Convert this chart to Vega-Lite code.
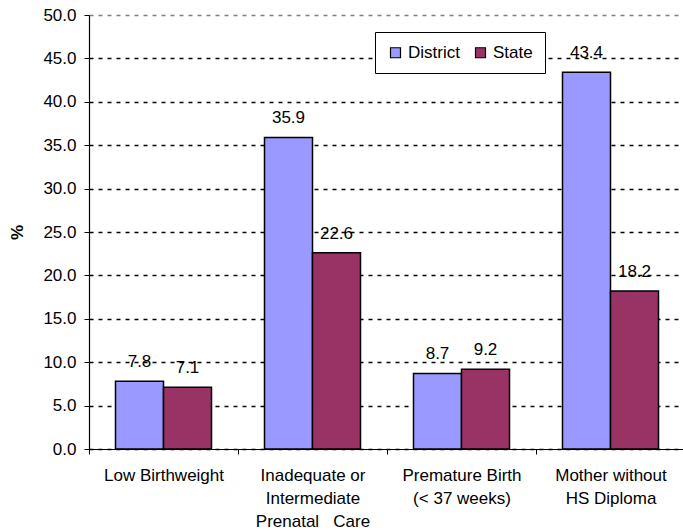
{
  "$schema": "https://vega.github.io/schema/vega-lite/v6.json",
  "autosize": {"type": "none"},
  "padding": {"left": 89, "top": 15, "right": 0, "bottom": 82},
  "width": 596,
  "height": 434,
  "background": "white",
  "config": {
    "font": "Liberation Sans",
    "view": {"stroke": null}
  },
  "data": {
    "values": [
      {"category": "Low Birthweight", "group": "District", "value": 7.8},
      {"category": "Low Birthweight", "group": "State", "value": 7.1},
      {"category": "Inadequate or|Intermediate|Prenatal\u00a0\u00a0\u00a0Care", "group": "District", "value": 35.9},
      {"category": "Inadequate or|Intermediate|Prenatal\u00a0\u00a0\u00a0Care", "group": "State", "value": 22.6},
      {"category": "Premature Birth|(< 37 weeks)", "group": "District", "value": 8.7},
      {"category": "Premature Birth|(< 37 weeks)", "group": "State", "value": 9.2},
      {"category": "Mother without|HS Diploma", "group": "District", "value": 43.4},
      {"category": "Mother without|HS Diploma", "group": "State", "value": 18.2}
    ]
  },
  "encoding": {
    "x": {
      "field": "category", "type": "nominal", "sort": null,
      "scale": {"paddingInner": 0, "paddingOuter": 0},
      "axis": {
        "title": null, "labelAngle": 0, "tickBand": "extent",
        "labelExpr": "split(datum.label, '|')",
        "labelFontSize": 17, "labelColor": "black", "labelPadding": 13,
        "labelLineHeight": 23, "labelBaseline": "top",
        "domainColor": "black", "domainWidth": 1.2,
        "tickColor": "black", "tickSize": 5, "grid": false
      }
    },
    "xOffset": {"field": "group", "type": "nominal", "scale": {"paddingInner": 0, "paddingOuter": 0.552}},
    "y": {
      "field": "value", "type": "quantitative",
      "scale": {"domain": [0, 50], "nice": false},
      "axis": {
        "title": "%", "titleFontSize": 17, "titleFontWeight": "bold", "titleColor": "black",
        "titlePadding": 16,
        "values": [0, 5, 10, 15, 20, 25, 30, 35, 40, 45, 50],
        "format": ".1f", "labelFontSize": 17, "labelColor": "black", "labelPadding": 8,
        "domainColor": "black", "domainWidth": 1.2,
        "tickColor": "black", "tickSize": 5,
        "grid": true,
        "gridColor": {"condition": {"test": "datum.value == 50", "value": "#808080"}, "value": "black"},
        "gridDash": [4, 5], "gridWidth": 1.4
      }
    }
  },
  "layer": [
    {
      "mark": {"type": "bar", "stroke": "black", "strokeWidth": 1.5},
      "encoding": {
        "color": {
          "field": "group", "type": "nominal",
          "scale": {"domain": ["District", "State"], "range": ["#9999FF", "#993366"]},
          "legend": {
            "title": null, "orient": "none", "direction": "horizontal",
            "legendX": 286, "legendY": 17,
            "fillColor": "white", "strokeColor": "black", "padding": 12,
            "symbolType": "square", "symbolSize": 100, "symbolStrokeColor": "black",
            "symbolStrokeWidth": 1.2, "symbolOpacity": 1,
            "labelFontSize": 17, "labelColor": "black", "columnPadding": 12, "labelOffset": 4
          }
        }
      }
    },
    {
      "mark": {"type": "text", "fontSize": 17, "color": "black", "baseline": "middle", "dy": -19},
      "encoding": {
        "text": {"field": "value", "type": "quantitative", "format": ".1f"}
      }
    }
  ]
}
